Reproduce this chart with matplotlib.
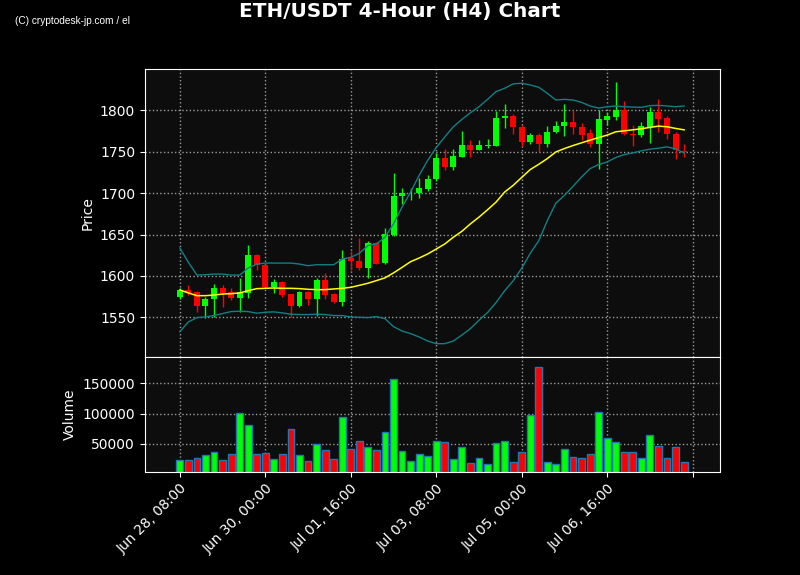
import matplotlib

matplotlib.use("Agg")
import matplotlib.pyplot as plt

# ETH/USDT H4 candles, index 0 = Jun 28 08:00
OPEN = [1574.8, 1582.9, 1580.5, 1563.4, 1571.5, 1585.0, 1580.9, 1573.6, 1579.7, 1625.6,
        1613.4, 1586.6, 1592.7, 1577.6, 1563.4, 1580.5, 1571.5, 1595.1, 1577.6, 1568.7,
        1621.1, 1618.5, 1609.2, 1640.2, 1615.3, 1649.8, 1696.0, 1699.6, 1700.0, 1705.6,
        1717.0, 1742.5, 1731.2, 1744.1, 1758.7, 1752.6, 1757.5, 1757.5, 1790.7, 1792.7,
        1780.0, 1761.4, 1770.7, 1759.4, 1773.6, 1780.9, 1785.8, 1780.5, 1772.4, 1759.4,
        1788.6, 1791.9, 1800.0, 1771.5, 1770.7, 1779.7, 1798.0, 1790.7, 1771.5, 1750.8]
HIGH = [1585.0, 1588.6, 1581.7, 1574.8, 1589.8, 1588.6, 1585.8, 1597.2, 1637.8, 1626.4,
        1614.5, 1596.7, 1594.0, 1578.0, 1581.7, 1581.7, 1598.0, 1603.3, 1578.9, 1631.3,
        1629.7, 1645.4, 1642.6, 1641.0, 1657.8, 1724.1, 1706.8, 1706.0, 1717.7, 1721.7,
        1748.6, 1753.4, 1753.4, 1774.9, 1764.4, 1764.4, 1765.6, 1799.2, 1807.3, 1796.0,
        1782.0, 1772.4, 1772.8, 1781.7, 1786.6, 1808.1, 1800.0, 1784.6, 1777.6, 1800.0,
        1798.0, 1833.7, 1811.0, 1782.5, 1785.8, 1804.0, 1813.4, 1793.1, 1773.6, 1759.3]
LOW = [1571.5, 1576.4, 1556.1, 1549.2, 1550.0, 1562.2, 1570.3, 1556.5, 1573.6, 1606.9,
       1585.0, 1578.9, 1574.8, 1550.0, 1562.2, 1565.4, 1552.0, 1571.5, 1566.7, 1564.2,
       1606.9, 1607.2, 1597.6, 1614.5, 1614.9, 1648.2, 1686.7, 1691.6, 1694.4, 1702.8,
       1715.0, 1728.3, 1728.3, 1743.3, 1744.1, 1752.2, 1754.2, 1757.0, 1779.0, 1771.7,
       1756.7, 1759.4, 1749.2, 1756.1, 1772.4, 1769.5, 1771.5, 1764.2, 1755.3, 1728.9,
       1782.5, 1787.8, 1770.3, 1757.3, 1767.5, 1760.6, 1773.6, 1765.4, 1741.1, 1743.1]
CLOSE = [1582.9, 1579.7, 1564.2, 1571.5, 1585.0, 1578.9, 1573.6, 1580.5, 1625.6, 1613.4,
         1586.6, 1592.7, 1576.8, 1564.2, 1580.5, 1571.5, 1595.1, 1576.8, 1568.7, 1620.3,
         1617.4, 1609.2, 1640.2, 1614.9, 1651.0, 1696.8, 1700.4, 1700.4, 1706.4, 1717.3,
         1742.5, 1731.2, 1745.3, 1758.3, 1752.6, 1758.3, 1758.3, 1791.1, 1792.7, 1779.7,
         1761.5, 1770.7, 1759.4, 1774.4, 1781.7, 1785.8, 1779.7, 1770.7, 1759.4, 1789.0,
         1792.7, 1800.0, 1771.5, 1770.7, 1781.7, 1798.0, 1789.0, 1771.5, 1752.0, 1749.6]
VOLUME = [23770, 23770, 27050, 32000, 36900, 23770, 33600, 100800, 81100, 33600,
          35250, 25400, 33600, 74600, 32000, 22130, 50000, 40200, 25400, 94300,
          41800, 54900, 45100, 40200, 69700, 156500, 38500, 22130, 33600, 30300,
          54900, 53300, 25400, 45100, 18900, 27050, 17200, 51600, 54900, 20500,
          36900, 97500, 176200, 20500, 17200, 41800, 28700, 27050, 33600, 102500,
          59800, 53300, 36900, 36900, 27050, 64750, 46700, 27050, 45100, 20500]

# 20-period moving average and Bollinger bands as drawn
MA = [1583.0, 1579.4, 1576.1, 1576.1, 1576.9, 1578.1, 1578.5, 1579.4, 1582.2, 1584.6,
      1585.0, 1585.4, 1585.0, 1585.0, 1584.6, 1583.8, 1583.4, 1583.4, 1584.2, 1585.0,
      1586.2, 1588.6, 1591.1, 1594.3, 1597.6, 1603.6, 1610.3, 1617.2, 1621.6, 1626.5,
      1632.5, 1638.6, 1646.7, 1653.9, 1662.9, 1671.0, 1679.9, 1689.2, 1701.3, 1709.4,
      1719.0, 1728.5, 1734.9, 1741.8, 1749.8, 1753.9, 1757.5, 1760.8, 1764.0, 1767.2,
      1770.1, 1774.1, 1775.3, 1776.5, 1777.8, 1779.4, 1781.0, 1780.2, 1778.2, 1776.5]
UPPER = [1633.7, 1616.4, 1601.0, 1601.4, 1602.2, 1602.2, 1601.0, 1601.0, 1609.5, 1614.3,
         1615.5, 1615.5, 1615.5, 1615.5, 1614.3, 1612.3, 1613.5, 1613.5, 1613.5, 1620.4,
         1622.4, 1627.3, 1636.6, 1638.6, 1646.7, 1662.9, 1683.1, 1701.3, 1721.5, 1739.7,
         1755.1, 1768.0, 1780.2, 1789.1, 1797.2, 1804.4, 1813.3, 1822.7, 1826.7, 1832.0,
         1832.8, 1830.7, 1827.9, 1820.6, 1812.5, 1813.3, 1812.5, 1809.7, 1805.3, 1802.8,
         1804.4, 1805.3, 1804.4, 1804.0, 1803.6, 1805.7, 1806.1, 1805.3, 1804.4, 1805.3]
LOWER = [1532.6, 1544.4, 1549.6, 1550.4, 1552.1, 1554.5, 1556.9, 1557.3, 1556.9, 1554.9,
         1556.1, 1556.5, 1555.3, 1553.7, 1553.3, 1553.3, 1553.7, 1553.3, 1552.1, 1552.1,
         1550.4, 1550.0, 1549.6, 1550.8, 1548.4, 1538.7, 1533.4, 1530.2, 1526.2, 1521.3,
         1518.1, 1518.1, 1521.3, 1528.6, 1536.3, 1546.4, 1555.7, 1567.8, 1582.0, 1594.1,
         1609.3, 1627.3, 1642.6, 1666.9, 1688.0, 1697.3, 1708.2, 1719.5, 1729.6, 1734.5,
         1737.7, 1743.0, 1746.6, 1748.6, 1751.1, 1753.1, 1754.3, 1755.9, 1753.5, 1748.6]

TICK_POS = [0, 10, 20, 30, 40, 50, 60]
TICK_LABELS = ["Jun 28, 08:00", "Jun 30, 00:00", "Jul 01, 16:00", "Jul 03, 08:00",
               "Jul 05, 00:00", "Jul 06, 16:00", ""]

UP = "#00ff00"
DOWN = "#ff0000"
BAND = "#127f82"
PANEL = "#0d0d0d"


def style_axes(ax):
    ax.set_facecolor(PANEL)
    for spine in ax.spines.values():
        spine.set_color("white")
    ax.tick_params(colors="white", labelsize=10)
    ax.grid(True, color="#9a9a9a", linestyle=":", linewidth=1)
    ax.set_axisbelow(True)


def main() -> None:
    fig = plt.figure(figsize=(8, 5.75), dpi=100, facecolor="black")
    gs = fig.add_gridspec(2, 1, height_ratios=[288, 114.5], hspace=0,
                          left=0.181, right=0.9, top=0.88, bottom=0.18)
    ax = fig.add_subplot(gs[0])
    axv = fig.add_subplot(gs[1], sharex=ax)

    x = list(range(len(OPEN)))
    colors = [UP if c >= o else DOWN for o, c in zip(OPEN, CLOSE)]
    bottoms = [min(o, c) for o, c in zip(OPEN, CLOSE)]
    heights = [max(abs(c - o), 1.0) for o, c in zip(OPEN, CLOSE)]

    ax.vlines(x, LOW, HIGH, colors=colors, linewidth=1, zorder=2)
    ax.bar(x, heights, bottom=bottoms, width=0.7, color=colors, zorder=3)
    ax.plot(x, UPPER, color=BAND, linewidth=1, zorder=4)
    ax.plot(x, LOWER, color=BAND, linewidth=1, zorder=4)
    ax.plot(x, MA, color="yellow", linewidth=1.1, zorder=5)

    axv.bar(x, VOLUME, width=0.8, color=colors, edgecolor="#1f77b4", linewidth=1)

    for a in (ax, axv):
        style_axes(a)

    ax.set_xlim(-4.1, 63.2)
    ax.set_ylim(1502, 1850)
    ax.set_yticks([1550, 1600, 1650, 1700, 1750, 1800])
    ax.tick_params(axis="x", bottom=False, labelbottom=False)
    ax.set_ylabel("Price", color="white", fontsize=10)

    axv.set_ylim(4600, 193000)
    axv.set_yticks([50000, 100000, 150000])
    axv.set_xticks(TICK_POS)
    axv.set_xticklabels(TICK_LABELS, rotation=45, ha="right", va="top",
                        rotation_mode="anchor")
    axv.set_ylabel("Volume", color="white", fontsize=10)

    fig.suptitle("ETH/USDT 4-Hour (H4) Chart", color="white", fontsize=14.4,
                 fontweight="bold", y=0.98, va="center")
    fig.text(0.019, 0.963, "(C) cryptodesk-jp.com / el", color="white",
             fontsize=7.3, family="Liberation Sans", va="center")

    fig.savefig("out.png", dpi=100, facecolor="black")


if __name__ == "__main__":
    main()
